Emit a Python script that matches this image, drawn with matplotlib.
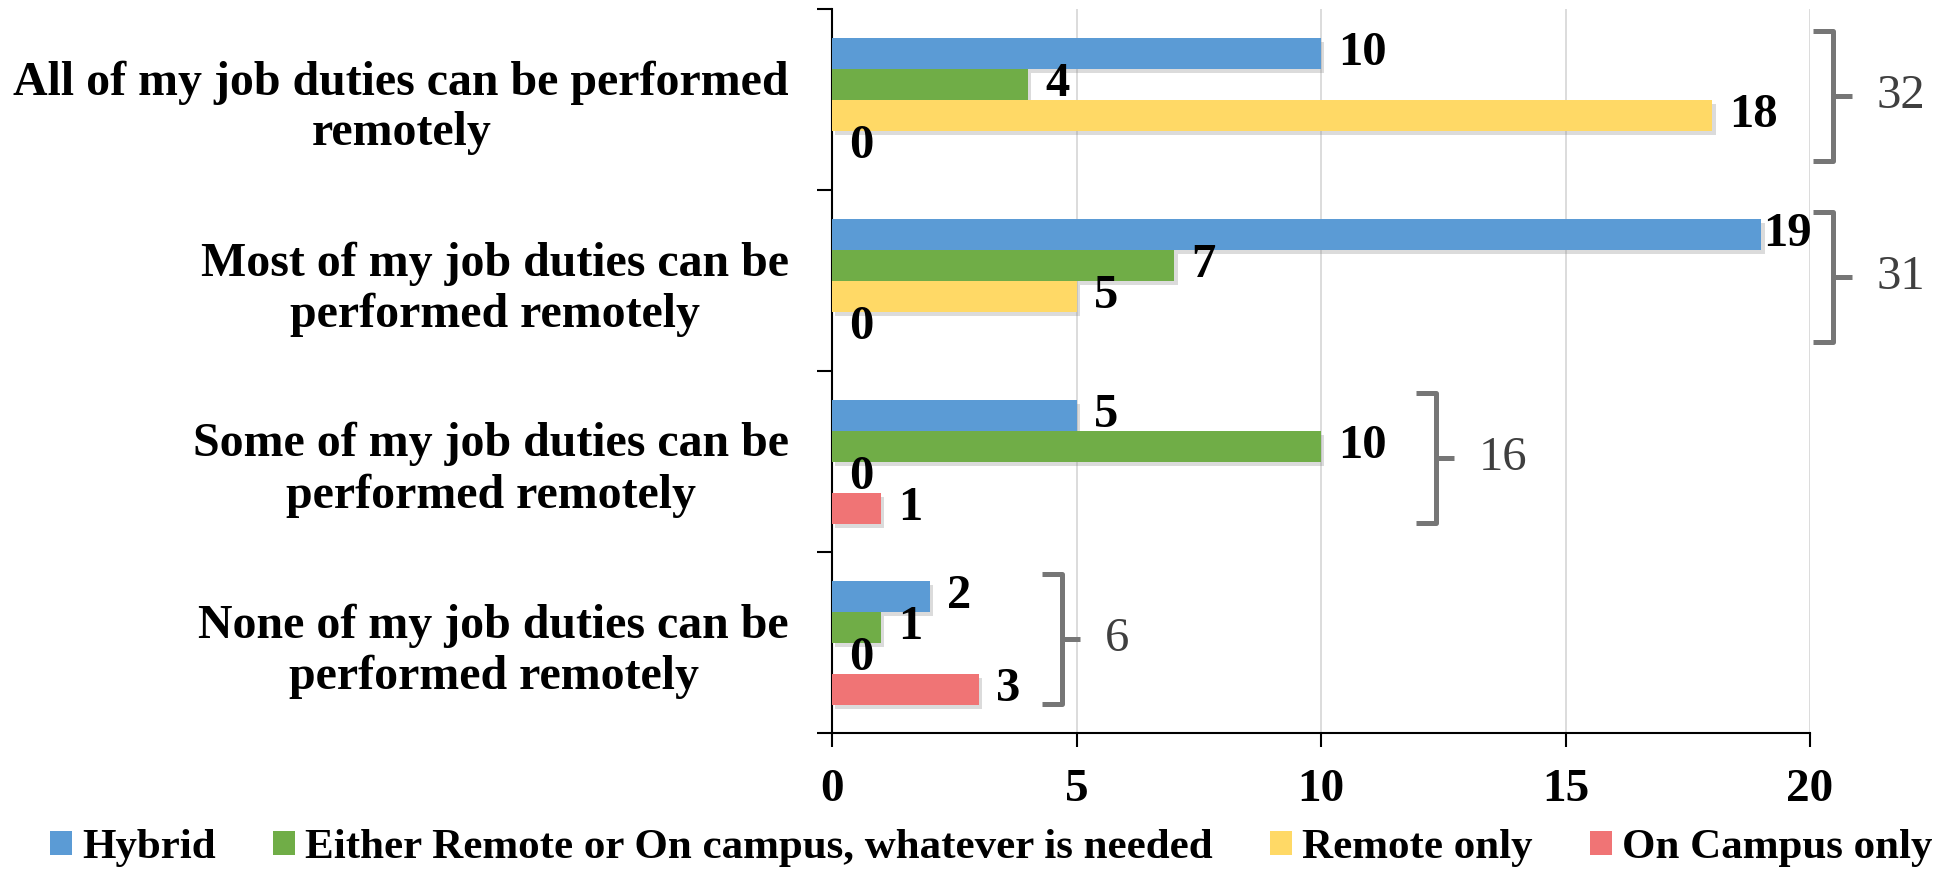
import matplotlib
matplotlib.use("Agg")
import matplotlib.pyplot as plt
from matplotlib.patches import Patch
from matplotlib.lines import Line2D
import matplotlib.patheffects as pe
import numpy as np

# ---------------- data ----------------
categories = [
    "All of my job duties can be performed\nremotely",
    "Most of my job duties can be\nperformed remotely",
    "Some of my job duties can be\nperformed remotely",
    "None of my job duties can be\nperformed remotely",
]
series_names = ["Hybrid", "Either Remote or On campus, whatever is needed",
                "Remote only", "On Campus only"]
hybrid = [10, 19, 5, 2]
either = [4, 7, 10, 1]
remote_only = [18, 5, 0, 0]
campus_only = [0, 0, 1, 3]
x_ticks = [0, 5, 10, 15, 20]

series = [hybrid, either, remote_only, campus_only]
colors = ["#5B9BD5", "#70AD47", "#FFD966", "#F07475"]
totals = [sum(v) for v in zip(*series)]

# bracket x positions (annotation style, data units)
bracket_x = [20.47, 20.47, 12.35, 4.70]

SERIF = "Liberation Serif"
W, H = 1939, 869
fig = plt.figure(figsize=(W / 100, H / 100), dpi=100)
ax = fig.add_axes([832 / W, 1 - 733 / H, (1810 - 832) / W, (733 - 9) / H])

n_cat = len(categories)
bar_h = 31 / 181
y = np.arange(n_cat)
shadow = [pe.SimplePatchShadow(offset=(2.5, -3.5), shadow_rgbFace="#8a8a8a", alpha=0.3), pe.Normal()]

for j, (vals, col) in enumerate(zip(series, colors)):
    pos = y + (j - 1.5) * bar_h
    bars = ax.barh(pos, vals, height=bar_h, color=col, zorder=3)
    for b in bars:
        b.set_path_effects(shadow)
    for v, p in zip(vals, pos):
        off = 12.5 if v < 19 else 1.5
        ax.annotate(str(v), (v, p), xytext=(off, 0), textcoords="offset points",
                    ha="left", va="center", fontsize=35, fontweight="bold",
                    family=SERIF, color="black", zorder=5, annotation_clip=False)

ax.set_xlim(0, 20)
ax.set_ylim(n_cat - 0.5, -0.5)

# brackets with totals
hook, notch, half = 0.40, 0.38, 0.36
for i, (bx, tot) in enumerate(zip(bracket_x, totals)):
    yc = i - 0.02
    ax.add_line(Line2D([bx - hook, bx, bx, bx - hook], [yc - half, yc - half, yc + half, yc + half],
                       color="#767676", lw=3.6, solid_joinstyle="round", solid_capstyle="butt",
                       clip_on=False, zorder=4))
    ax.add_line(Line2D([bx, bx + notch], [yc, yc], color="#767676", lw=3.6,
                       solid_capstyle="butt", clip_on=False, zorder=4))
    ax.text(bx + notch + 0.5, yc, str(tot), ha="left", va="center", fontsize=35,
            family=SERIF, color="#3f3f3f", clip_on=False)

# axes styling
ax.set_xticks(x_ticks)
ax.set_xticklabels([str(t) for t in x_ticks], fontsize=34, fontweight="bold", family=SERIF)
ax.set_yticks(np.arange(n_cat + 1) - 0.5)
ax.set_yticklabels([])
ax.set_yticks(y, minor=True)
ax.set_yticklabels(categories, minor=True, fontsize=34.5, fontweight="bold", family=SERIF)
for t in ax.get_yticklabels(minor=True):
    t.set_multialignment("center")
ax.tick_params(axis="y", which="major", length=11, width=1.5, direction="out")
ax.tick_params(axis="y", which="minor", length=0, pad=31)
ax.tick_params(axis="x", length=10, width=1.5, direction="out", pad=16)
for s in ["top", "right"]:
    ax.spines[s].set_visible(False)
for s in ["left", "bottom"]:
    ax.spines[s].set_linewidth(1.5)
ax.xaxis.grid(True, color="#d9d9d9", lw=1.3)
ax.set_axisbelow(True)

handles = [Patch(facecolor=c, edgecolor="none", label=n) for c, n in zip(colors, series_names)]
fig.legend(handles=handles, loc="lower left", bbox_to_anchor=(50 / W, 0.002), ncol=4,
           frameon=False, handlelength=0.51, handleheight=0.51, handletextpad=0.23,
           columnspacing=1.34, borderaxespad=0, borderpad=0,
           prop={"family": SERIF, "weight": "bold", "size": 31})

fig.savefig("out.png", dpi=100)
